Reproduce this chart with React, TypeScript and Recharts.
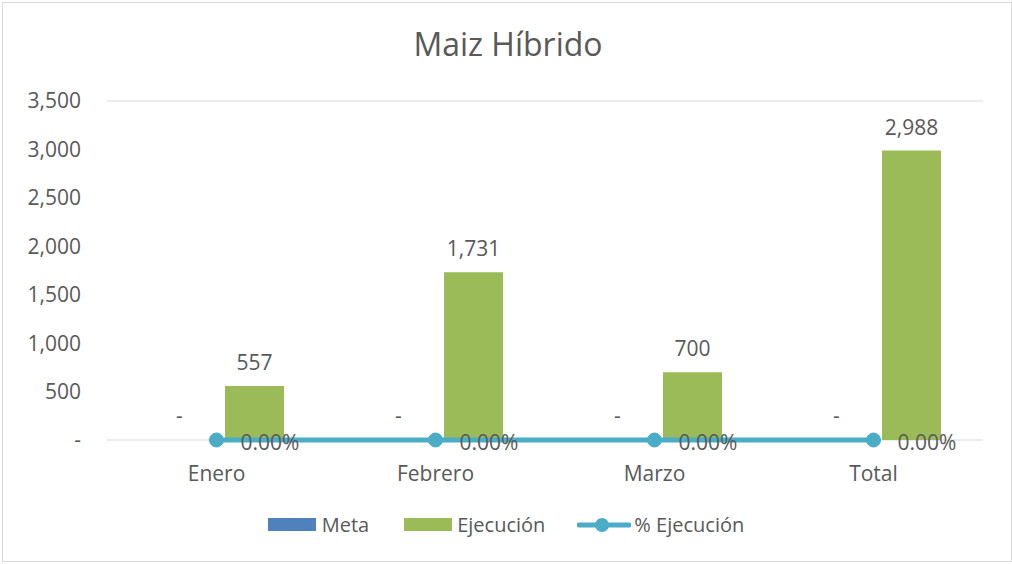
import {
  ComposedChart, Bar, Line, XAxis, YAxis, CartesianGrid, LabelList, Cell,
} from "recharts";

const categories = ["Enero", "Febrero", "Marzo", "Total"];
const meta = [0, 0, 0, 0];
const ejecucion = [557, 1731, 700, 2988];
const pctEjecucion = [0, 0, 0, 0];
const yTicks = [0, 500, 1000, 1500, 2000, 2500, 3000, 3500];

const data = categories.map((name, i) => ({
  name,
  meta: meta[i],
  ejecucion: ejecucion[i],
  pct: pctEjecucion[i],
}));

const FONT = "'Open Sans', sans-serif";
const TEXT = "#595959";
const FS = 21;

const fmtNum = (v: number) => (v === 0 ? "-" : v.toLocaleString("en-US"));
const fmtPct = (v: number) => (v * 100).toFixed(2) + "%";

function PctLabel({ x, y, value }: any) {
  return (
    <text x={x + 24} y={y + 3} dy="0.35em" fill={TEXT} fontSize={FS} fontFamily={FONT}>
      {fmtPct(value)}
    </text>
  );
}

function BarTopLabel({ x, y, width, value }: any) {
  return (
    <text x={x + width / 2} y={y - 16} textAnchor="middle" fill={TEXT} fontSize={FS} fontFamily={FONT}>
      {fmtNum(value)}
    </text>
  );
}

export default function App() {
  return (
    <div style={{ position: "absolute", left: 0, top: 0, width: 1012, height: 564, background: "#fff", fontFamily: FONT }}>
      <div style={{ position: "absolute", left: 2, top: 2, width: 1010, height: 560, border: "1px solid #D9D9D9", boxSizing: "border-box" }} />
      <div style={{ position: "absolute", left: 0, top: 22, width: 1016, textAlign: "center", fontSize: 32, color: TEXT }}>
        Maiz Híbrido
      </div>
      <div style={{ position: "absolute", left: 0, top: 0 }}>
        <ComposedChart
          width={1012}
          height={564}
          data={data}
          margin={{ top: 101, right: 29, left: 0, bottom: 94 }}
          barCategoryGap={43}
          barGap={16}
        >
          <CartesianGrid vertical={false} stroke="#D9D9D9" strokeWidth={1} />
          <XAxis
            dataKey="name"
            axisLine={false}
            tickLine={false}
            tickMargin={20}
            height={30}
            tick={{ fontSize: FS, fill: TEXT, fontFamily: FONT }}
          />
          <YAxis
            yAxisId="left"
            domain={[0, 3500]}
            ticks={yTicks}
            tickFormatter={fmtNum}
            axisLine={false}
            tickLine={false}
            tickMargin={20}
            width={107}
            tick={{ fontSize: FS, fill: TEXT, fontFamily: FONT }}
          />
          <YAxis yAxisId="right" orientation="right" domain={[0, 1]} hide />
          <Bar yAxisId="left" dataKey="meta" fill="#4F81BD" minPointSize={1} isAnimationActive={false}>
            {meta.map((v, i) => (
              <Cell key={i} fillOpacity={v === 0 ? 0 : 1} />
            ))}
            <LabelList dataKey="meta" content={<BarTopLabel />} />
          </Bar>
          <Bar yAxisId="left" dataKey="ejecucion" fill="#9BBB59" isAnimationActive={false}>
            <LabelList dataKey="ejecucion" content={<BarTopLabel />} />
          </Bar>
          <Line
            yAxisId="right"
            dataKey="pct"
            stroke="#4BACC6"
            strokeWidth={5}
            dot={{ r: 7, fill: "#4BACC6", stroke: "#4BACC6", strokeWidth: 1 }}
            isAnimationActive={false}
          >
            <LabelList dataKey="pct" content={<PctLabel />} />
          </Line>
        </ComposedChart>
      </div>
      <div style={{ position: "absolute", left: 0, top: 511, width: 1012, display: "flex", justifyContent: "center", alignItems: "center", fontSize: 20, color: TEXT }}>
        <span style={{ display: "inline-block", width: 48, height: 13, background: "#4F81BD", marginRight: 6 }} />
        <span style={{ marginRight: 35 }}>Meta</span>
        <span style={{ display: "inline-block", width: 48, height: 13, background: "#9BBB59", marginRight: 5 }} />
        <span style={{ marginRight: 32 }}>Ejecución</span>
        <svg width={54} height={16} style={{ marginRight: 3 }}>
          <line x1={2} y1={8} x2={52} y2={8} stroke="#4BACC6" strokeWidth={5} strokeLinecap="round" />
          <circle cx={25} cy={8} r={7} fill="#4BACC6" />
        </svg>
        <span>% Ejecución</span>
      </div>
    </div>
  );
}
